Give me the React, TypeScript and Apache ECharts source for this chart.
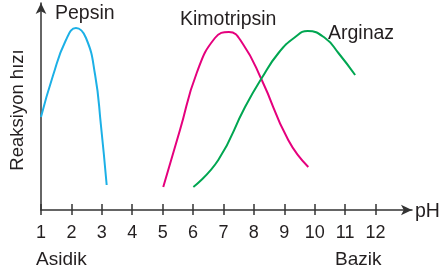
import React, { useEffect, useRef } from "react";
import * as echarts from "echarts";

const tickValues = [1, 2, 3, 4, 5, 6, 7, 8, 9, 10, 11, 12];
const pepsin = [
  [1.0, 93], [1.39, 134], [1.82, 170], [2.15, 182], [2.48, 172], [2.78, 135], [2.97, 85], [3.16, 25],
];
const kimotripsin = [
  [5.02, 23], [5.57, 80], [6.12, 137], [6.72, 172], [7.18, 178], [7.64, 166], [8.26, 130], [9.13, 70], [9.79, 43],
];
const arginaz = [
  [6.01, 23], [6.83, 50], [7.71, 103], [8.26, 132], [8.81, 157], [9.36, 173], [9.77, 179],
  [10.34, 172], [10.78, 157], [11.33, 135],
];
const seriesNames = ["Pepsin", "Kimotripsin", "Arginaz"];
const seriesColors = ["#1cb0e6", "#e5007d", "#00a651"];

const FONT = "'Liberation Sans', Arial, Helvetica, sans-serif";
const TXT = "#231f20";

export default function App() {
  const ref = useRef<HTMLDivElement>(null);
  useEffect(() => {
    if (!ref.current) return;
    const chart = echarts.init(ref.current, null, { renderer: "svg" });
    const axisLine = { lineStyle: { color: "#333", width: 1.5 } };
    const xBase = {
      type: "value",
      min: 1,
      max: 13.2,
      interval: 1,
      position: "bottom",
      splitLine: { show: false },
    };
    chart.setOption({
      animation: false,
      grid: { left: 41, right: 29, top: 3, bottom: 67, outerBoundsMode: "none" },
      xAxis: [
        {
          ...xBase,
          axisLine: { ...axisLine, symbol: ["none", "arrow"], symbolSize: [8, 11] },
          axisTick: { show: true, length: 5, inside: false, customValues: tickValues, lineStyle: { color: "#333", width: 1.5 } },
          axisLabel: { customValues: tickValues, margin: 13, fontSize: 18, color: TXT, fontFamily: FONT },
        },
        {
          ...xBase,
          axisLine: { show: false },
          axisTick: { show: true, length: 6, inside: true, customValues: tickValues, lineStyle: { color: "#333", width: 1.5 } },
          axisLabel: { show: false },
        },
      ],
      yAxis: {
        type: "value",
        min: 0,
        max: 207,
        splitLine: { show: false },
        axisTick: { show: false },
        axisLabel: { show: false },
        axisLine: { show: true, ...axisLine, symbol: ["none", "arrow"], symbolSize: [8, 11] },
        name: "Reaksiyon hızı",
        nameLocation: "middle",
        nameGap: 15,
        nameTextStyle: { fontSize: 18.5, color: TXT, fontFamily: FONT, padding: [0, 0, 0, -7] },
      },
      series: [pepsin, kimotripsin, arginaz].map((d, i) => ({
        name: seriesNames[i],
        type: "line",
        smooth: 0.5,
        showSymbol: false,
        data: d,
        lineStyle: { color: seriesColors[i], width: 2 },
        itemStyle: { color: seriesColors[i] },
      })),
      graphic: [
        { type: "text", x: 55, y: 2, style: { text: "Pepsin", fill: TXT, font: `19.5px ${FONT}` } },
        { type: "text", x: 180, y: 8, style: { text: "Kimotripsin", fill: TXT, font: `19.5px ${FONT}` } },
        { type: "text", x: 328, y: 22, style: { text: "Arginaz", fill: TXT, font: `19.5px ${FONT}` } },
        { type: "text", x: 415, y: 200, style: { text: "pH", fill: TXT, font: `19.5px ${FONT}` } },
        { type: "text", x: 36, y: 249, style: { text: "Asidik", fill: TXT, font: `19px ${FONT}` } },
        { type: "text", x: 335, y: 249, style: { text: "Bazik", fill: TXT, font: `19px ${FONT}` } },
      ],
    });
    return () => chart.dispose();
  }, []);
  return <div ref={ref} style={{ position: "fixed", left: 0, top: 0, width: 441, height: 277 }} />;
}
